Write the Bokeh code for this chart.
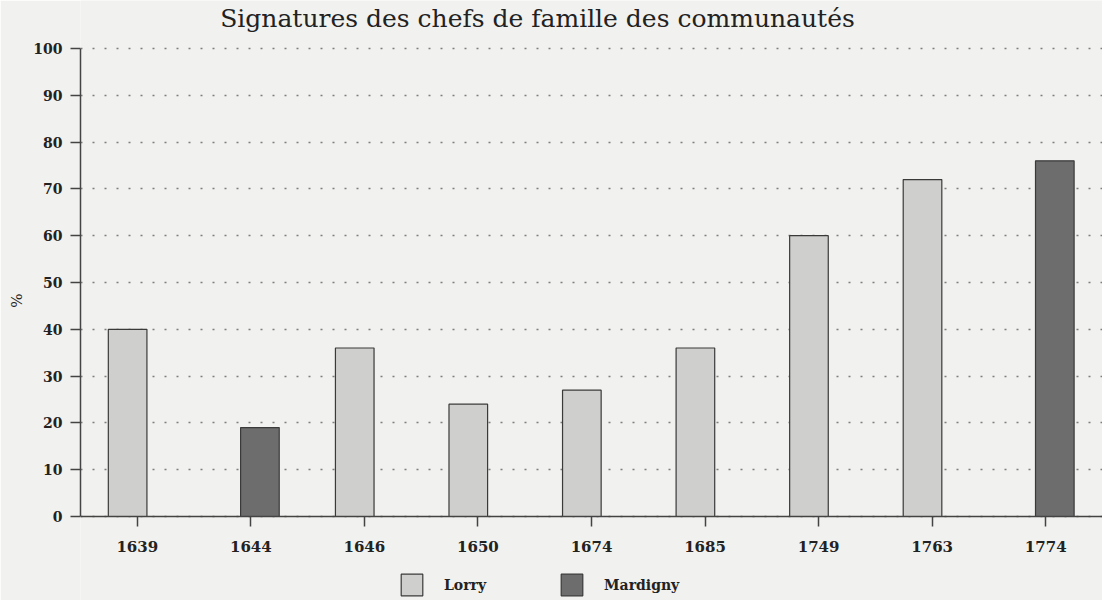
from bokeh.plotting import figure
from bokeh.models import ColumnDataSource, FactorRange, Range1d, Legend, LegendItem, Label
from bokeh.transform import dodge
from bokeh.embed import file_html
from bokeh.resources import INLINE

years = ["1639", "1644", "1646", "1650", "1674", "1685", "1749", "1763", "1774"]
lorry_years = ["1639", "1646", "1650", "1674", "1685", "1749", "1763"]
lorry_vals = [40, 36, 24, 27, 36, 60, 72]
mardigny_years = ["1644", "1774"]
mardigny_vals = [19, 76]
y_ticks = [0, 10, 20, 30, 40, 50, 60, 70, 80, 90, 100]
title_text = "Signatures des chefs de famille des communautés"

BG = "#f1f1ef"
SERIF = "DejaVu Serif"
W, H = 1102, 600
LEFT = 80
TOP_PX, BOTTOM_PX = 48, 516          # page rows of 100 % and 0 %
px_per_unit = (BOTTOM_PX - TOP_PX) / 100.0
y_end = 100 + TOP_PX / px_per_unit
y_start = -(H - BOTTOM_PX) / px_per_unit

p = figure(width=W, height=H, x_range=FactorRange(factors=years, range_padding=0),
           y_range=Range1d(y_start, y_end), output_backend="svg", toolbar_location=None,
           min_border_left=LEFT, min_border_right=0, min_border_top=0, min_border_bottom=0)
p.background_fill_color = BG
p.border_fill_color = BG
p.outline_line_color = None

src_l = ColumnDataSource(dict(x=lorry_years, top=lorry_vals))
src_m = ColumnDataSource(dict(x=mardigny_years, top=mardigny_vals))

rl = p.vbar(x=dodge("x", -0.085, range=p.x_range), top="top", bottom=0, width=0.34, source=src_l,
            fill_color="#cfcfcd", line_color="#3a3a3a", line_width=1.2)
rm = p.vbar(x=dodge("x", 0.08, range=p.x_range), top="top", bottom=0, width=0.34, source=src_m,
            fill_color="#6d6d6d", line_color="#3a3a3a", line_width=1.2)

p.xgrid.grid_line_color = None
p.ygrid.grid_line_color = "#7e7e7e"
p.ygrid.grid_line_dash = "2 10"
p.ygrid.grid_line_width = 1.5
p.yaxis.ticker = y_ticks
p.yaxis.bounds = (0, 100)
p.xaxis.fixed_location = 0

for ax in (p.xaxis[0], p.yaxis[0]):
    ax.axis_line_color = "#444444"
    ax.axis_line_width = 1.5
    ax.major_tick_line_color = "#444444"
    ax.major_tick_line_width = 1.5
    ax.major_tick_out = 10
    ax.major_tick_in = 0
    ax.minor_tick_line_color = None
    ax.major_label_text_font = SERIF
    ax.major_label_text_font_size = "14px"
    ax.major_label_text_font_style = "bold"
    ax.major_label_text_color = "#222222"

p.xaxis.major_label_text_font_size = "15px"
p.xaxis.major_label_standoff = 14
p.yaxis.major_label_standoff = 8
p.yaxis.axis_label = "%"
p.yaxis.axis_label_text_font = SERIF
p.yaxis.axis_label_text_font_size = "15px"
p.yaxis.axis_label_text_font_style = "normal"
p.yaxis.axis_label_text_color = "#222222"
p.yaxis.axis_label_standoff = 4

title = Label(x=537 - LEFT, y=H - 18, x_units="screen", y_units="screen", text=title_text,
              text_align="center", text_baseline="alphabetic", text_font=SERIF,
              text_font_size="25px", text_color="#222222")
p.add_layout(title)

legend = Legend(items=[LegendItem(label="Lorry", renderers=[rl]),
                       LegendItem(label="Mardigny", renderers=[rm])],
                orientation="horizontal", location=(318, 2),
                glyph_width=27, glyph_height=27, label_standoff=19, spacing=72,
                padding=0, margin=0, border_line_color=None, background_fill_alpha=0,
                label_text_font=SERIF, label_text_font_size="14px",
                label_text_font_style="bold", label_text_color="#222222")
p.add_layout(legend, "center")

open("out.html", "w").write(file_html(p, INLINE))
